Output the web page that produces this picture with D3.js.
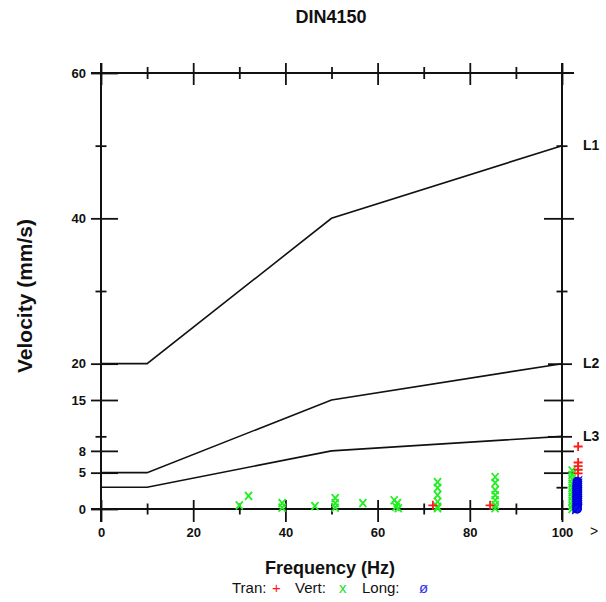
<!DOCTYPE html>
<html><head><meta charset="utf-8">
<script src="https://cdn.jsdelivr.net/npm/d3@7"></script>
<style>
body{margin:0;background:#fff;}
svg{display:block;font-family:"Liberation Sans",Arial,sans-serif;}
</style></head>
<body><svg id="c" width="606" height="602"></svg>
<script>
// ---- data ----
const title = "DIN4150";
const xLabel = "Frequency (Hz)";
const yLabel = "Velocity (mm/s)";
const xTicks = [0, 20, 40, 60, 80, 100];
const xMinor = [10, 30, 50, 70, 90];
const yLeftMajor = [0, 5, 8, 15, 20, 40, 60];
const yLeftMinor = [10, 30, 50];
const yRightMajor = [5, 8, 15, 40];
const yRightMid = [10, 20];
const yRightMinor = [3, 30, 50];
const lineNames = ["L1", "L2", "L3"];
const lineFreq = [0, 10, 50, 100];
const lineL1 = [20, 20, 40, 50];
const lineL2 = [5, 5, 15, 20];
const lineL3 = [3, 3, 8, 10];
const tranPoints = [[72,0.5],[84.4,0.5],[103.5,8.6],[103.5,6.4],[103.5,5.9],[103.5,5.4],[103.5,4.9]];
const vertPoints = [[30,0.5],[32,1.8],[39.3,0.8],[39.3,0.2],[46.4,0.4],[50.8,1.5],[50.8,0.8],[50.8,0.2],
  [56.8,0.8],[63.6,1.2],[64.3,0.8],[64,0.3],[64.5,0.1],[73,3.7],[73,2.9],[73,1.9],[73,1.0],[73,0.3],[73,0.1],
  [85.5,4.4],[85.5,3.6],[85.5,2.6],[85.5,1.9],[85.5,1.2],[85.5,0.55],[85.5,0.1],
  [102.2,5.3],[102.2,4.7],[102.2,4.1],[102.2,3.5],[102.2,2.9],[102.2,2.3],[102.2,1.7],[102.2,1.1],[102.2,0.5],[102.2,0]];
const longPoints = [[103.3,3.8],[103.3,3.5],[103.3,3.2],[103.3,2.9],[103.3,2.6],[103.3,2.3],[103.3,2.0],
  [103.3,1.7],[103.3,1.4],[103.3,1.1],[103.3,0.8],[103.3,0.5],[103.3,0.2],[103.3,0]];
const legendItems = [["Tran:", "text"], ["+", "tran"], ["Vert:", "text"], ["x", "vert"], ["Long:", "text"], ["ø", "long"]];

// ---- layout ----
const svg = d3.select("#c");
const x = d3.scaleLinear().domain([0, 100]).range([101, 562]);
const y = d3.scaleLinear().domain([0, 60]).range([509, 73]);
const X0 = x(0), X1 = x(100), Y0 = y(0), Y1 = y(60);

svg.append("text").attr("x", 331).attr("y", 23).attr("text-anchor", "middle")
  .attr("font-size", 18).attr("font-weight", "bold").attr("fill", "#111").text(title);

function styleAxis(g){
  g.select(".domain").remove();
  g.selectAll(".tick line").attr("stroke", "#111").attr("stroke-width", 1.8);
  g.selectAll(".tick text").attr("fill", "#111").attr("font-size", 13).attr("font-weight", "bold")
   .attr("font-family", "Liberation Sans, Arial, sans-serif");
}
const ax = svg.append("g");
// left axis
ax.append("g").attr("transform", `translate(${X0},0)`).call(d3.axisLeft(y).tickValues(yLeftMajor).tickSize(10).tickPadding(5)).call(styleAxis);
ax.append("g").attr("transform", `translate(${X0},0)`).call(d3.axisRight(y).tickValues(yLeftMajor).tickSize(17).tickFormat("")).call(styleAxis);
ax.append("g").attr("transform", `translate(${X0},0)`).call(d3.axisLeft(y).tickValues(yLeftMinor).tickSize(5.5).tickFormat("")).call(styleAxis);
ax.append("g").attr("transform", `translate(${X0},0)`).call(d3.axisRight(y).tickValues(yLeftMinor).tickSize(5.5).tickFormat("")).call(styleAxis);
// right axis
ax.append("g").attr("transform", `translate(${X1},0)`).call(d3.axisLeft(y).tickValues(yRightMajor).tickSize(18).tickFormat("")).call(styleAxis);
ax.append("g").attr("transform", `translate(${X1},0)`).call(d3.axisRight(y).tickValues(yRightMajor).tickSize(12).tickFormat("")).call(styleAxis);
ax.append("g").attr("transform", `translate(${X1},0)`).call(d3.axisLeft(y).tickValues(yRightMid).tickSize(14).tickFormat("")).call(styleAxis);
ax.append("g").attr("transform", `translate(${X1},0)`).call(d3.axisRight(y).tickValues(yRightMid).tickSize(10).tickFormat("")).call(styleAxis);
ax.append("g").attr("transform", `translate(${X1},0)`).call(d3.axisLeft(y).tickValues(yRightMinor).tickSize(5.5).tickFormat("")).call(styleAxis);
ax.append("g").attr("transform", `translate(${X1},0)`).call(d3.axisRight(y).tickValues(yRightMinor).tickSize(5.5).tickFormat("")).call(styleAxis);
// bottom axis
ax.append("g").attr("transform", `translate(0,${Y0})`).call(d3.axisBottom(x).tickValues(xTicks).tickSize(13).tickPadding(6)).call(styleAxis);
ax.append("g").attr("transform", `translate(0,${Y0})`).call(d3.axisTop(x).tickValues(xTicks).tickSize(9).tickFormat("")).call(styleAxis);
ax.append("g").attr("transform", `translate(0,${Y0})`).call(d3.axisBottom(x).tickValues(xMinor).tickSize(5.5).tickFormat("")).call(styleAxis);
ax.append("g").attr("transform", `translate(0,${Y0})`).call(d3.axisTop(x).tickValues(xMinor).tickSize(5.5).tickFormat("")).call(styleAxis);
// top axis
ax.append("g").attr("transform", `translate(0,${Y1})`).call(d3.axisTop(x).tickValues(xTicks).tickSize(10).tickFormat("")).call(styleAxis);
ax.append("g").attr("transform", `translate(0,${Y1})`).call(d3.axisBottom(x).tickValues(xTicks).tickSize(12).tickFormat("")).call(styleAxis);
ax.append("g").attr("transform", `translate(0,${Y1})`).call(d3.axisTop(x).tickValues(xMinor).tickSize(6).tickFormat("")).call(styleAxis);
ax.append("g").attr("transform", `translate(0,${Y1})`).call(d3.axisBottom(x).tickValues(xMinor).tickSize(6).tickFormat("")).call(styleAxis);

// frame lines
const frame = [[X0-10, Y1, X1+12, Y1],[X0-10, Y0, X1+7, Y0],[X0, Y1-10, X0, Y0+13],[X1, Y1-10, X1, Y0+11]];
svg.append("g").selectAll("line").data(frame).join("line")
  .attr("x1", d=>d[0]).attr("y1", d=>d[1]).attr("x2", d=>d[2]).attr("y2", d=>d[3])
  .attr("stroke", "#111").attr("stroke-width", 2);

// ">" beyond 100
svg.append("text").attr("x", x(100) + 28).attr("y", 536).attr("font-size", 14).attr("fill", "#111").text(">");

// criteria lines
const lines = [lineL1, lineL2, lineL3];
const lineGen = d3.line().x((d, i) => x(lineFreq[i])).y(d => y(d));
svg.append("g").selectAll("path").data(lines).join("path")
  .attr("d", d => lineGen(d)).attr("fill", "none").attr("stroke", "#111").attr("stroke-width", 1.6);
svg.append("g").selectAll("text").data(lines).join("text")
  .attr("x", x(100) + 21).attr("y", d => y(d[d.length - 1])).attr("dy", "0.3em")
  .attr("font-size", 14).attr("font-weight", "bold").attr("fill", "#111")
  .text((d, i) => lineNames[i]);

// markers
const mk = svg.append("g");
mk.selectAll("path.v").data(vertPoints).join("path").attr("class", "v")
  .attr("d", d => { const cx = x(d[0]), cy = y(d[1]); return `M${cx-3.5},${cy-4}L${cx+3.5},${cy+4}M${cx+3.5},${cy-4}L${cx-3.5},${cy+4}`; })
  .attr("stroke", "#22ee22").attr("stroke-width", 1.8).attr("fill", "none");
mk.selectAll("path.t").data(tranPoints).join("path").attr("class", "t")
  .attr("d", d => { const cx = x(d[0]), cy = y(d[1]); return `M${cx-4.5},${cy}L${cx+4.5},${cy}M${cx},${cy-4.5}L${cx},${cy+4.5}`; })
  .attr("stroke", "#ff1a1a").attr("stroke-width", 1.8).attr("fill", "none");
const lg = mk.selectAll("g.l").data(longPoints).join("g").attr("class", "l")
  .attr("transform", d => `translate(${x(d[0])},${y(d[1])})`);
lg.append("circle").attr("r", 4).attr("fill", "#1010ee").attr("stroke", "#0000dd").attr("stroke-width", 1.5);
lg.append("line").attr("x1", -5).attr("y1", 5).attr("x2", 5).attr("y2", -5).attr("stroke", "#0000dd").attr("stroke-width", 1.2);

// axis labels
svg.append("text").attr("x", 330).attr("y", 574).attr("text-anchor", "middle")
  .attr("font-size", 18).attr("font-weight", "bold").attr("fill", "#111").text(xLabel);
svg.append("text").attr("transform", "translate(32,296) rotate(-90)").attr("text-anchor", "middle")
  .attr("font-size", 21).attr("font-weight", "bold").attr("fill", "#111").text(yLabel);

// legend
const legColor = {text: "#111", tran: "#ff1a1a", vert: "#22dd22", long: "#3333ee"};
const legX = [232, 272, 295, 339, 362, 419];
svg.append("g").selectAll("text").data(legendItems).join("text")
  .attr("x", (d, i) => legX[i]).attr("y", 593).attr("font-size", 15)
  .attr("fill", d => legColor[d[1]]).text(d => d[0]);
</script></body></html>
